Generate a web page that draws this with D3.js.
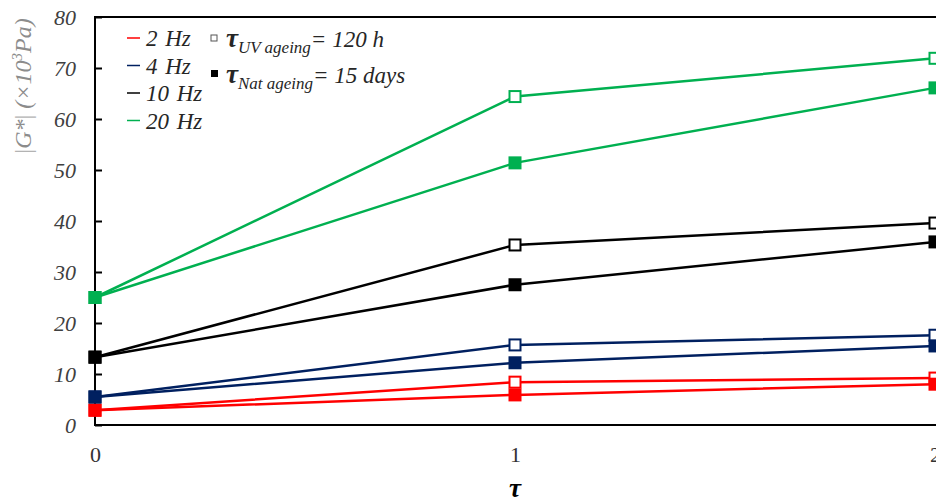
<!DOCTYPE html>
<html>
<head>
<meta charset="utf-8">
<script src="https://cdn.jsdelivr.net/npm/d3@7"></script>
<style>
  html, body { margin: 0; padding: 0; background: #fff; }
  svg text { font-family: 'Liberation Serif', 'Times New Roman', Tinos, serif; }
</style>
</head>
<body>
<svg id="chart" width="936" height="502"></svg>
<script>
// Ageing time (normalised) on the x axis
const tau = [0, 1, 2];
const frequencies = ["2 Hz", "4 Hz", "10 Hz", "20 Hz"];
const colors = ["#ff0000", "#002060", "#000000", "#00b050"];

// |G*| (×10³ Pa) after UV ageing (open squares)
const uv2Hz  = [2.9, 8.4, 9.2];
const uv4Hz  = [5.5, 15.7, 17.6];
const uv10Hz = [13.3, 35.3, 39.6];
const uv20Hz = [25.0, 64.4, 71.9];

// |G*| (×10³ Pa) after natural ageing (filled squares)
const nat2Hz  = [2.9, 5.9, 8.0];
const nat4Hz  = [5.5, 12.2, 15.5];
const nat10Hz = [13.3, 27.5, 35.9];
const nat20Hz = [25.0, 51.4, 66.1];

const yTicks = [0, 10, 20, 30, 40, 50, 60, 70, 80];
const xTicks = [0, 1, 2];

const uvSeries  = [uv2Hz, uv4Hz, uv10Hz, uv20Hz];
const natSeries = [nat2Hz, nat4Hz, nat10Hz, nat20Hz];

const FONT = "'Liberation Serif', 'Times New Roman', Tinos, serif";

const svg = d3.select("#chart").attr("font-family", FONT);
const x = d3.scaleLinear().domain([0, 2]).range([95, 935]);
const y = d3.scaleLinear().domain([0, 80]).range([425, 17]);

// Plot frame (left, bottom, top)
const frame = svg.append("g").attr("stroke", "#000").attr("stroke-width", 2).attr("fill", "none");
frame.append("line").attr("x1", x(0)).attr("x2", x(0)).attr("y1", y(0) + 1).attr("y2", y(80) - 1);
frame.append("line").attr("x1", x(0) - 1).attr("x2", 936).attr("y1", y(0)).attr("y2", y(0));
frame.append("line").attr("x1", x(0) - 1).attr("x2", 936).attr("y1", y(80)).attr("y2", y(80));

// Y axis: inward ticks, italic labels
const yAxis = d3.axisRight(y).tickValues(yTicks).tickSize(7).tickFormat("");
const yg = svg.append("g").attr("transform", `translate(${x(0)},0)`).call(yAxis);
yg.select(".domain").remove();
yg.selectAll(".tick line").attr("stroke", "#000").attr("stroke-width", 2);

svg.append("g").selectAll("text").data(yTicks).join("text")
  .attr("x", 76).attr("y", d => y(d)).attr("dy", "0.35em")
  .attr("text-anchor", "end").attr("font-size", 22).attr("font-style", "italic")
  .attr("font-family", FONT).attr("fill", "#404040").text(d => d);

// X axis labels
const xAxis = d3.axisBottom(x).tickValues(xTicks).tickSize(0).tickPadding(21).tickFormat(d3.format("d"));
const xg = svg.append("g").attr("transform", `translate(0,${y(0)})`).call(xAxis);
xg.attr("font-family", FONT);
xg.select(".domain").remove();
xg.selectAll(".tick text").attr("font-size", 22).attr("font-family", FONT).attr("fill", "#333");

// Axis titles
svg.append("text").attr("x", x(1)).attr("y", 497).attr("text-anchor", "middle")
  .attr("font-family", FONT).attr("font-size", 27).attr("font-weight", "bold")
  .attr("font-style", "italic").text("τ");

const yTitle = svg.append("text").attr("transform", "translate(31,86) rotate(-90)")
  .attr("text-anchor", "middle").attr("font-family", FONT).attr("font-size", 24)
  .attr("font-style", "italic").attr("fill", "#8c8c8c");
yTitle.append("tspan").attr("fill", "#b3b3b3").attr("font-style", "normal").text("|");
yTitle.append("tspan").text("G*");
yTitle.append("tspan").attr("fill", "#b3b3b3").attr("font-style", "normal").text("|");
yTitle.append("tspan").text(" (×10");
yTitle.append("tspan").attr("font-size", 15).attr("dy", -9).text("3");
yTitle.append("tspan").attr("dy", 9).text("Pa)");

// Series lines and markers
const line = d3.line().x((d, i) => x(tau[i])).y(d => y(d));
const plot = svg.append("g");
const ms = 11;

frequencies.forEach((f, k) => {
  const g = plot.append("g");
  g.append("path").datum(uvSeries[k]).attr("d", line)
    .attr("fill", "none").attr("stroke", colors[k]).attr("stroke-width", 2.5);
  g.append("path").datum(natSeries[k]).attr("d", line)
    .attr("fill", "none").attr("stroke", colors[k]).attr("stroke-width", 2.5);
});
frequencies.forEach((f, k) => {
  const g = plot.append("g");
  g.selectAll("rect.uv").data(uvSeries[k]).join("rect").attr("class", "uv")
    .attr("x", (d, i) => x(tau[i]) - ms / 2).attr("y", d => y(d) - ms / 2)
    .attr("width", ms).attr("height", ms)
    .attr("fill", "#fff").attr("stroke", colors[k]).attr("stroke-width", 2);
  g.selectAll("rect.nat").data(natSeries[k]).join("rect").attr("class", "nat")
    .attr("x", (d, i) => x(tau[i]) - ms / 2).attr("y", d => y(d) - ms / 2)
    .attr("width", ms).attr("height", ms)
    .attr("fill", colors[k]).attr("stroke", colors[k]).attr("stroke-width", 2);
});

// Legend: frequencies (colour)
const leg = svg.append("g").attr("font-family", FONT);
frequencies.forEach((f, k) => {
  const yy = 38 + k * 27.5;
  leg.append("line").attr("x1", 127).attr("x2", 140).attr("y1", yy).attr("y2", yy)
    .attr("stroke", colors[k]).attr("stroke-width", 1.5);
  leg.append("text").attr("x", 146).attr("y", yy + 8).attr("font-size", 23)
    .attr("font-family", FONT).attr("font-style", "italic").attr("fill", "#262626")
    .attr("word-spacing", 2).text(f);
});

// Legend: ageing conditions (marker style)
leg.append("rect").attr("x", 211).attr("y", 35).attr("width", 6).attr("height", 6)
  .attr("fill", "#fff").attr("stroke", "#555").attr("stroke-width", 1);
leg.append("rect").attr("x", 211).attr("y", 70).attr("width", 7).attr("height", 7)
  .attr("fill", "#000");

const t1 = leg.append("text").attr("x", 226).attr("y", 47).attr("font-size", 23)
  .attr("font-family", FONT).attr("font-style", "italic").attr("fill", "#262626");
t1.append("tspan").attr("font-weight", "bold").attr("font-size", 27).text("τ");
t1.append("tspan").attr("font-size", 17).attr("dy", 6).text("UV ageing");
t1.append("tspan").attr("dy", -6).text("= 120 h");

const t2 = leg.append("text").attr("x", 226).attr("y", 83).attr("font-size", 23)
  .attr("font-family", FONT).attr("font-style", "italic").attr("fill", "#262626");
t2.append("tspan").attr("font-weight", "bold").attr("font-size", 27).text("τ");
t2.append("tspan").attr("font-size", 17).attr("dy", 6).text("Nat ageing");
t2.append("tspan").attr("dy", -6).text("= 15 days");
</script>
</body>
</html>
